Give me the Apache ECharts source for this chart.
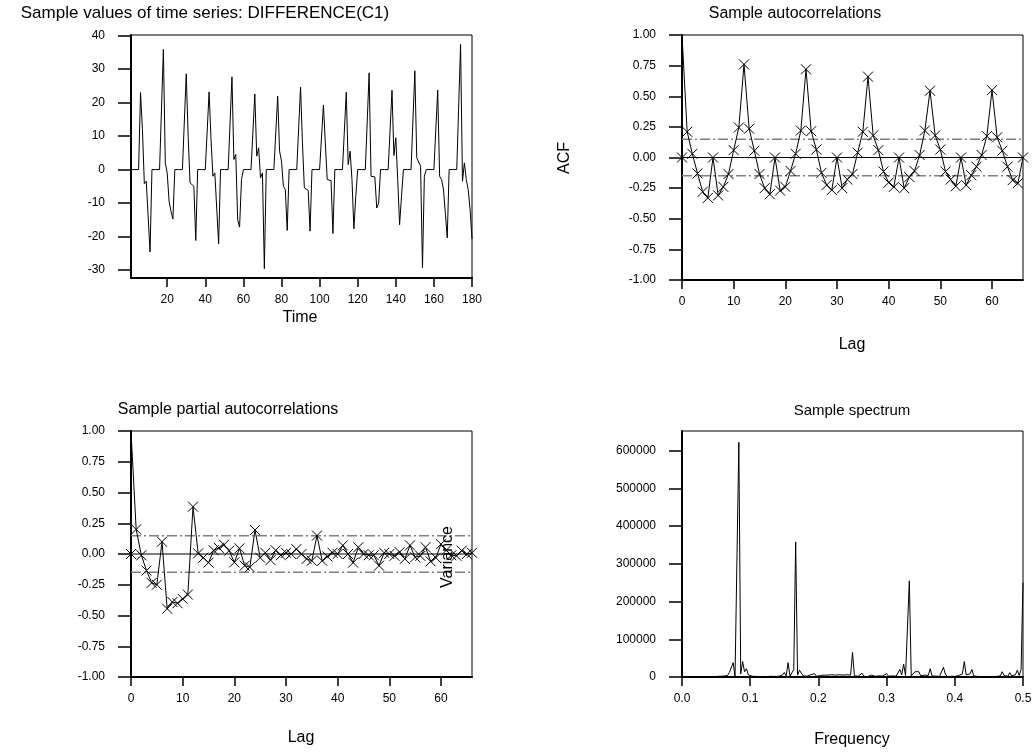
<!DOCTYPE html>
<html>
<head>
<meta charset="utf-8">
<script src="https://cdn.jsdelivr.net/npm/echarts@6/dist/echarts.min.js"></script>
<style>
html,body{margin:0;padding:0;background:#fff;}
#chart{width:1034px;height:755px;}
</style>
</head>
<body>
<div id="chart"></div>
<script>
// ---- Data ----
const tsValues = [
  0,0,0,0,0,23,12,-4.2,-3.5,-3.8,-24.6,0,
  0,0,0,0,0,35.9,2,-1,-9.5,-12.5,-14.8,0,
  0,0,0,0,0,28.6,10,-4,-3.5,-5,-21.2,0,
  0,0,0,0,0,23.2,9,-2,-1,-1.3,-22.2,0,
  0,0,0,0,0,27.7,3,4.5,-15,-17.2,-3,0,
  0,0,0,0,0,22.6,4,6.5,-2.5,-1,-29.6,0,
  0,0,0,0,0,21.9,5.5,2.5,-5,-6,-18.2,0,
  0,0,0,0,0,24.6,8,-5.5,-5.8,-6.2,-18.4,0,
  0,0,0,0,0,19.3,8,-3,-3,-3.3,-19.1,0,
  0,0,0,0,0,23.1,1.5,5.5,-3,-17.7,-8,0,
  0,0,0,0,0,28.9,-2,-2.5,-2.2,-11.5,-10,0,
  0,0,0,0,0,23.7,4.2,9.5,-3,-16.5,-8,0,
  0,0,0,0,0,29.5,3.5,3.2,1,-29.4,-2,0,
  0,0,0,0,0,23.7,-2,-3,-5.8,-13,-20.4,0,
  0,0,0,0,0,37.4,-3.5,2,-3,-6,-12,-20.7
];
const acfValues = [
  1.0, 0.21, 0.03, -0.13, -0.28, -0.33, 0.0, -0.31, -0.24, -0.135,
  0.06, 0.245, 0.76, 0.235, 0.055, -0.135, -0.25, -0.30, 0.0, -0.27,
  -0.24, -0.11, 0.03, 0.22, 0.72, 0.215, 0.065, -0.125, -0.225, -0.265,
  0.0, -0.25, -0.18, -0.135, 0.04, 0.21, 0.66, 0.18, 0.06, -0.115,
  -0.205, -0.24, 0.0, -0.25, -0.16, -0.11, 0.02, 0.22, 0.545, 0.18,
  0.065, -0.115, -0.18, -0.235, 0.0, -0.225, -0.145, -0.075, 0.02, 0.175,
  0.55, 0.165, 0.055, -0.075, -0.185, -0.21, 0.0
];
const pacfValues = [
  1.0, 0.2, -0.01, -0.135, -0.235, -0.25, 0.10, -0.445, -0.39, -0.40,
  -0.365, -0.33, 0.385, 0.005, -0.03, -0.07, 0.03, 0.05, 0.075, 0.027,
  -0.068, 0.046, -0.095, -0.108, 0.195, -0.03, 0.01, -0.05, 0.03, -0.01,
  0.01, 0.0, 0.04, 0.0, -0.04, -0.055, 0.15, -0.055, -0.02, 0.01,
  0.0, 0.07, 0.0, -0.07, 0.055, 0.0, -0.01, -0.01, -0.095, 0.01,
  0.0, -0.015, 0.015, -0.04, 0.07, -0.027, -0.015, 0.055, -0.06, -0.03,
  0.08, 0.03, -0.01, -0.015, 0.027, 0.0, 0.01
];
const specStep = 1 / 360;
const specValues = [
  0, 300, 800, 200, 1000, 400, 900, 300, 1200, 500,
  900, 300, 1000, 600, 1200, 400, 1500, 600, 1300, 800,
  2000, 1000, 2500, 3000, 4000, 12000, 8000, 38000, 1000, 6000,
  622000, 8000, 41000, 14000, 22000, 6000, 9000, 2000, 6000, 1500,
  5000, 1000, 4500, 1500, 5000, 1000, 6000, 2000, 5000, 1500,
  6000, 2000, 4000, 5000, 12000, 3000, 38000, 2000, 5000, 20000,
  358000, 5000, 18000, 10000, 3000, 5000, 2000, 1500, 6000, 1000,
  9000, 1500, 2000, 4000, 1000, 5000, 2000, 5000, 1000, 6000,
  1000, 5000, 2000, 6000, 1000, 5000, 2000, 6000, 1000, 5000,
  65000, 3000, 1000, 2000, 4000, 10000, 2000, 3000, 1000, 2000,
  5000, 10000, 2000, 1000, 3000, 1000, 2500, 4000, 9000, 2000,
  1500, 3000, 1000, 2000, 3000, 20000, 6000, 34000, 4000, 6000,
  255000, 3000, 5000, 14000, 10000, 14000, 3000, 1000, 5000, 1000,
  4000, 22000, 3000, 6000, 2000, 5000, 2000, 5000, 26000, 8000,
  1000, 1000, 2000, 1000, 1500, 3000, 4000, 3000, 8000, 41000,
  6000, 4000, 8000, 20000, 3000, 5000, 1500, 4000, 1000, 3000,
  1500, 500, 1000, 800, 1500, 500, 1500, 2000, 3000, 14000,
  4000, 5000, 2000, 11500, 3000, 2000, 6000, 18000, 4000, 20000,
  250000
];
const bandLimit = 0.149;
const maxLag = 66;
const tsXTicks = [20, 40, 60, 80, 100, 120, 140, 160, 180];
const tsYTicks = [-30, -20, -10, 0, 10, 20, 30, 40];
const lagTicks = [0, 10, 20, 30, 40, 50, 60];
const corrTicks = [-1, -0.75, -0.5, -0.25, 0, 0.25, 0.5, 0.75, 1];
const freqTicks = [0, 0.1, 0.2, 0.3, 0.4, 0.5];
const specYTicks = [0, 100000, 200000, 300000, 400000, 500000, 600000];

// ---- Chart ----
const FONT = 'Liberation Sans, Arial, sans-serif';
const chart = echarts.init(document.getElementById('chart'), null, {renderer: 'canvas'});
const X_SYMBOL = 'path://M0,0L10,10M10,0L0,10';

function xAx(gi, min, max, ticks, fmt) {
  return {
    type: 'value', gridIndex: gi, min: min, max: max,
    axisLine: {show: true, onZero: false, lineStyle: {color: '#000', width: 2}},
    axisTick: {show: true, length: 9, lineStyle: {color: '#000', width: 1.5}, customValues: ticks},
    axisLabel: {color: '#000', fontSize: 12, fontFamily: FONT, margin: 16, customValues: ticks, formatter: fmt},
    splitLine: {show: false}
  };
}
function yAx(gi, min, max, ticks, fmt) {
  return {
    type: 'value', gridIndex: gi, min: min, max: max,
    axisLine: {show: true, onZero: false, lineStyle: {color: '#000', width: 2}},
    axisTick: {show: true, length: 13, lineStyle: {color: '#000', width: 1.5}, customValues: ticks},
    axisLabel: {color: '#000', fontSize: 12, fontFamily: FONT, margin: 26, customValues: ticks, formatter: fmt},
    splitLine: {show: false}
  };
}
const gridBase = {show: true, borderColor: '#000', borderWidth: 1, backgroundColor: '#fff', containLabel: false, outerBoundsMode: 'none'};

function refLine(xi, yi, val, dashed) {
  return {
    type: 'line', xAxisIndex: xi, yAxisIndex: yi, symbol: 'none', silent: true, z: 2,
    data: [[0, val], [maxLag, val]],
    lineStyle: dashed ? {color: '#808080', width: 1.5, type: [10, 3, 2, 3]} : {color: '#000', width: 1}
  };
}
function zeroLine(xi, yi) {
  return {
    type: 'line', xAxisIndex: xi, yAxisIndex: yi, symbol: 'none', showSymbol: true, silent: true, z: 3,
    data: [{value: [0, 0], symbol: X_SYMBOL, symbolSize: 10}, [maxLag, 0]],
    itemStyle: {color: 'rgba(0,0,0,0)', borderColor: '#000', borderWidth: 1},
    lineStyle: {color: '#000', width: 1}
  };
}
function corrSeries(xi, yi, vals) {
  return {
    type: 'line', xAxisIndex: xi, yAxisIndex: yi, z: 4,
    data: vals.map((v, i) => i === 0 ? {value: [i, v], symbol: 'none'} : [i, v]),
    symbol: X_SYMBOL, symbolSize: 10, showSymbol: true, clip: false,
    itemStyle: {color: 'rgba(0,0,0,0)', borderColor: '#000', borderWidth: 1},
    lineStyle: {color: '#000', width: 1}
  };
}
function label(x, y, text, size, rot) {
  const el = {type: 'text', x: x, y: y, z: 100, style: {text: text, font: size + 'px ' + FONT, fill: '#000', align: 'center', verticalAlign: 'middle', textAlign: 'center', textVerticalAlign: 'middle'}};
  if (rot) el.rotation = Math.PI / 2;
  return el;
}

const option = {
  animation: false,
  backgroundColor: '#fff',
  grid: [
    Object.assign({left: 131, top: 35, width: 341, height: 243}, gridBase),
    Object.assign({left: 682, top: 35, width: 341, height: 245}, gridBase),
    Object.assign({left: 131, top: 431, width: 341, height: 246}, gridBase),
    Object.assign({left: 682, top: 431, width: 341, height: 246}, gridBase)
  ],
  xAxis: [
    xAx(0, 1, 180, tsXTicks, v => String(v)),
    xAx(1, 0, maxLag, lagTicks, v => String(v)),
    xAx(2, 0, maxLag, lagTicks, v => String(v)),
    xAx(3, 0, 0.5, freqTicks, v => v.toFixed(1))
  ],
  yAxis: [
    yAx(0, -32.4, 40.2, tsYTicks, v => String(v)),
    yAx(1, -1, 1, corrTicks, v => v.toFixed(2)),
    yAx(2, -1, 1, corrTicks, v => v.toFixed(2)),
    yAx(3, 0, 652000, specYTicks, v => String(v))
  ],
  series: [
    {
      type: 'line', xAxisIndex: 0, yAxisIndex: 0, symbol: 'none', z: 4,
      data: tsValues.map((v, i) => [i + 1, v]),
      lineStyle: {color: '#000', width: 1}
    },
    refLine(1, 1, bandLimit, true),
    refLine(1, 1, -bandLimit, true),
    zeroLine(1, 1),
    corrSeries(1, 1, acfValues),
    refLine(2, 2, bandLimit, true),
    refLine(2, 2, -bandLimit, true),
    zeroLine(2, 2),
    corrSeries(2, 2, pacfValues),
    {
      type: 'line', xAxisIndex: 3, yAxisIndex: 3, symbol: 'none', z: 4,
      data: specValues.map((v, k) => [k * specStep, v]),
      lineStyle: {color: '#000', width: 1}
    }
  ],
  graphic: [
    label(205, 13, 'Sample values of time series: DIFFERENCE(C1)', 17),
    label(795, 14, 'Sample autocorrelations', 16),
    label(228, 410, 'Sample partial autocorrelations', 16),
    label(852, 411, 'Sample spectrum', 15),
    label(300, 318, 'Time', 16),
    label(852, 345, 'Lag', 16),
    label(301, 738, 'Lag', 16),
    label(852, 740, 'Frequency', 16),
    label(565, 158, 'ACF', 16, true),
    label(448, 557, 'Variance', 16, true)
  ]
};
chart.setOption(option);
</script>
</body>
</html>
